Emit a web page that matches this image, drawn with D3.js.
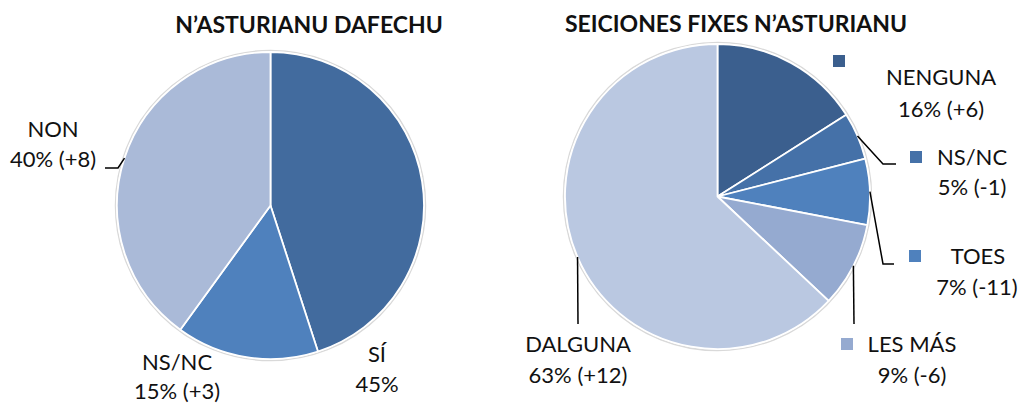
<!DOCTYPE html>
<html><head><meta charset="utf-8">
<script src="https://cdnjs.cloudflare.com/ajax/libs/d3/7.8.5/d3.min.js"></script>
<style>
html,body{margin:0;padding:0;background:#fff;}
svg{display:block;}
text{font-family:Lato,"Open Sans",sans-serif;fill:#111;}
</style></head>
<body><svg id="c" width="1022" height="404"></svg>
<script>
// ---- data ----
const leftTitle = "N\u2019ASTURIANU DAFECHU";
const leftCategories = ["SÍ", "NS/NC", "NON"];
const leftValues = [45, 15, 40];
const leftChanges = ["", "+3", "+8"];
const leftColors = ["#426B9E", "#4F81BD", "#AABAD8"];

const rightTitle = "SEICIONES FIXES N\u2019ASTURIANU";
const rightCategories = ["NENGUNA", "NS/NC", "TOES", "LES MÁS", "DALGUNA"];
const rightValues = [16, 5, 7, 9, 63];
const rightChanges = ["+6", "-1", "-11", "-6", "+12"];
const rightColors = ["#3B5F8E", "#4571A8", "#4F81BD", "#95AAD0", "#BAC8E1"];

// ---- layout (label placements) ----
const svg = d3.select("#c");
const FS = 22;

function drawPie(cfg){
  const g = svg.append("g").attr("transform", `translate(${cfg.cx},${cfg.cy})`);
  const pie = d3.pie().sort(null).value(d => d.v).startAngle(0).endAngle(2*Math.PI);
  const data = cfg.cats.map((c,i)=>({c, v:cfg.vals[i], ch:cfg.changes[i], col:cfg.colors[i]}));
  const arcs = pie(data);
  const arc = d3.arc().innerRadius(0).outerRadius(cfg.r);
  g.append("circle").attr("r", cfg.r+1.5).attr("fill","none").attr("stroke","#d9d9d9").attr("stroke-width",1.5);
  g.selectAll("path.s").data(arcs).join("path").attr("class","s")
    .attr("d", arc).attr("fill", d=>d.data.col).attr("stroke","#fff").attr("stroke-width",1.8).attr("stroke-linejoin","round");
  // title
  svg.append("text").attr("x", cfg.titleX).attr("y", cfg.titleY).attr("text-anchor","middle")
    .style("font-weight","bold").style("font-size","23px").text(cfg.title);
  arcs.forEach((a,i)=>{
    const L = cfg.labels[i];
    const mid = (a.startAngle + a.endAngle)/2;
    const ex = cfg.cx + cfg.r*Math.sin(mid), ey = cfg.cy - cfg.r*Math.cos(mid);
    if (L.leader){
      const pts = [[ex,ey]].concat(L.leader);
      svg.append("path").attr("d", d3.line()(pts)).attr("fill","none").attr("stroke","#000").attr("stroke-width",1.5);
    }
    if (L.key){
      svg.append("rect").attr("x",L.key[0]).attr("y",L.key[1]).attr("width",12).attr("height",12).attr("fill",a.data.col);
    }
    const pct = a.data.v + "%" + (a.data.ch ? " (" + a.data.ch + ")" : "");
    svg.append("text").attr("x",L.x).attr("y",L.y).attr("text-anchor","middle").style("font-size",FS+"px").text(a.data.c);
    svg.append("text").attr("x",L.x2 ?? L.x).attr("y",L.y+L.dy).attr("text-anchor","middle").style("font-size",FS+"px").text(pct);
  });
}

drawPie({
  cx:270.5, cy:205.5, r:153.5, title:leftTitle, titleX:309, titleY:33,
  cats:leftCategories, vals:leftValues, changes:leftChanges, colors:leftColors,
  labels:[
    {x:377, y:362, dy:30},
    {x:177, y:370, dy:29},
    {x:53, y:137, dy:30, leader:[[118,168],[105,168]]}
  ]
});
drawPie({
  cx:717.5, cy:196.5, r:152.5, title:rightTitle, titleX:736, titleY:32,
  cats:rightCategories, vals:rightValues, changes:rightChanges, colors:rightColors,
  labels:[
    {x:941, y:85, dy:32, key:[833,55]},
    {x:972, y:165, dy:30, key:[910,151], leader:[[883,164],[896,164]]},
    {x:978, y:264, dy:31, x2:977, key:[909,250], leader:[[883,264],[894,264]]},
    {x:912, y:352, dy:31, key:[841,338], leader:[[854,324]]},
    {x:578, y:352, dy:31, leader:[[578,324]]}
  ]
});
</script></body></html>
